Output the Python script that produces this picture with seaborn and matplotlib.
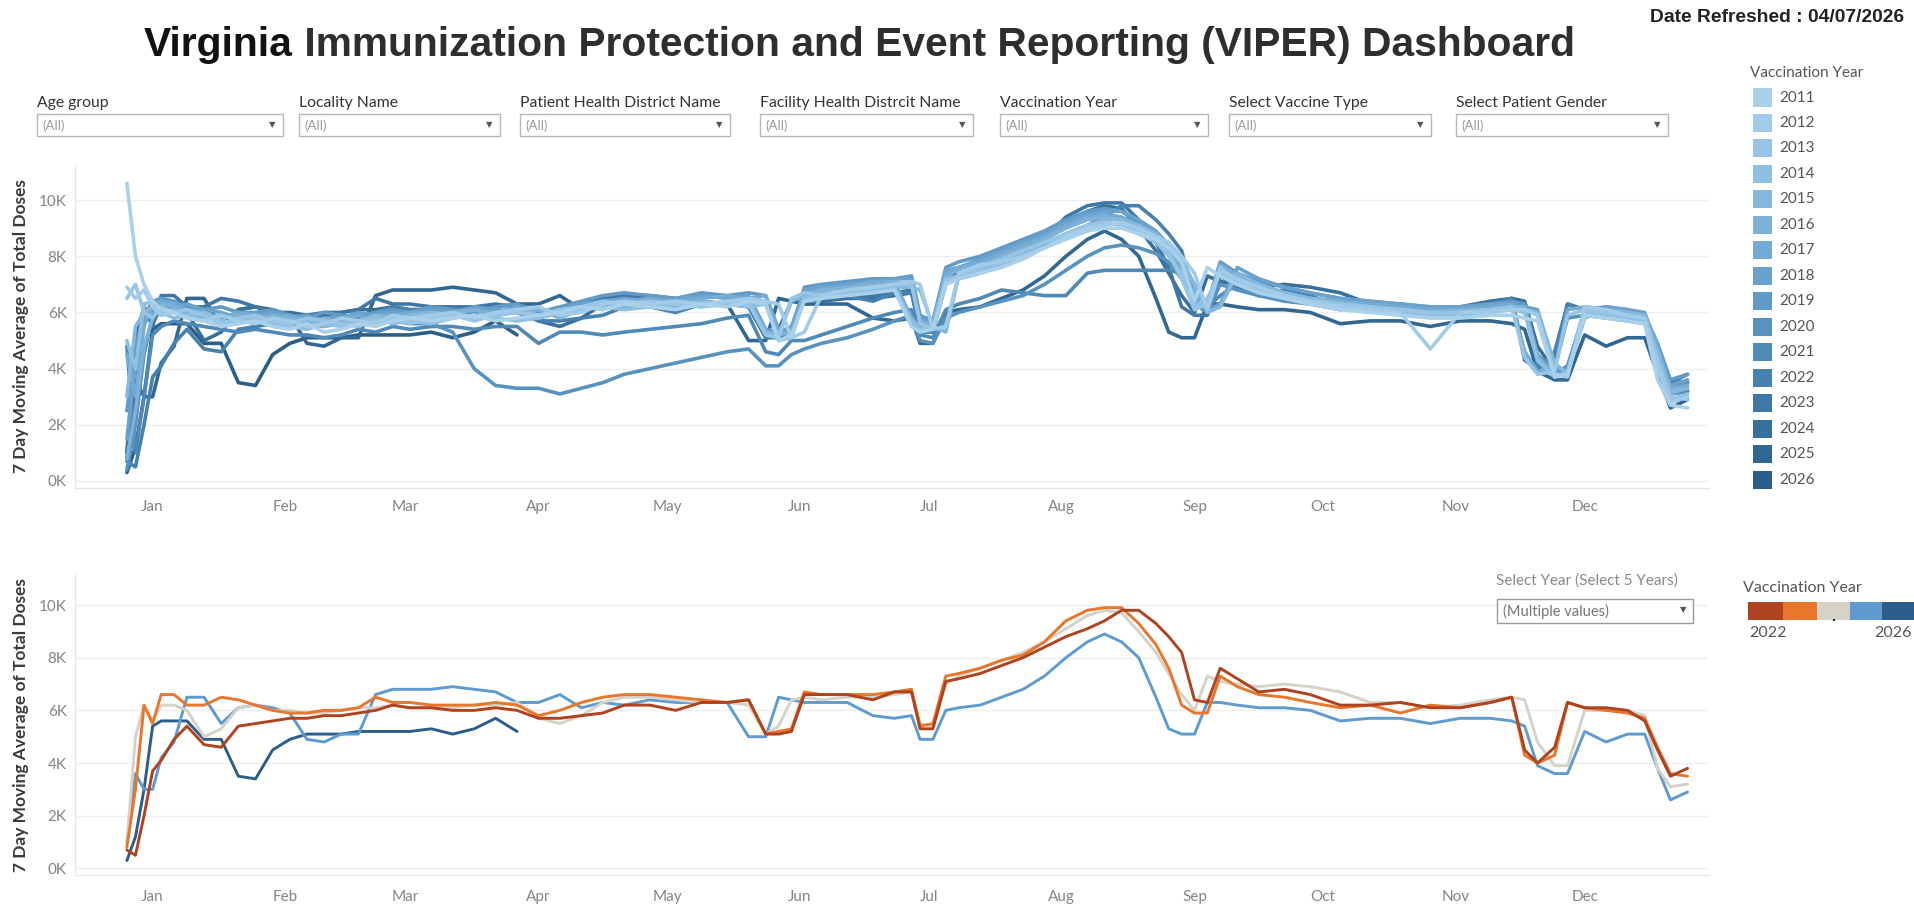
import numpy as np
import pandas as pd
import matplotlib
matplotlib.use("Agg")
import matplotlib.pyplot as plt
from matplotlib.patches import Rectangle
from matplotlib.ticker import FuncFormatter
from matplotlib import font_manager
import seaborn as sns

# ---------------- data (values in thousands of doses) ----------------
DAYS = [-6, -4, -2, 0, 2, 5, 8, 12, 16, 20,
        24, 28, 32, 36, 40, 44, 48, 52, 56, 60,
        65, 70, 75, 80, 85, 90, 95, 100, 105, 110,
        116, 122, 128, 134, 139, 143, 146, 149, 152, 156,
        162, 168, 173, 177, 179, 182, 185, 188, 193, 198,
        203, 208, 213, 218, 222, 226, 230, 234, 237, 240,
        243, 246, 249, 253, 258, 264, 270, 277, 284, 291,
        298, 305, 312, 317, 320, 323, 327, 330, 334, 339,
        344, 348, 351, 354, 358]

Y2011 = [10.6, 8.0, 7.0, 6.4, 6.1, 6.0, 5.8, 5.7, 5.5, 5.6,
         5.7, 5.5, 5.4, 5.6, 5.3, 5.4, 5.6, 5.5, 5.7, 5.8,
         5.7, 5.8, 5.9, 5.7, 5.8, 5.9, 6.0, 6.2, 6.1, 6.3,
         6.2, 6.1, 6.3, 6.2, 6.4, 6.3, 5.0, 5.2, 6.4, 6.5,
         6.6, 6.7, 6.8, 5.5, 5.3, 5.4, 7.0, 7.2, 7.4, 7.6,
         7.9, 8.3, 8.6, 8.9, 9.0, 9.0, 8.8, 8.6, 8.3, 7.8,
         6.4, 7.6, 7.3, 7.0, 6.7, 6.5, 6.3, 6.1, 6.0, 5.9,
         5.8, 5.8, 5.9, 5.9, 5.8, 5.7, 3.7, 3.8, 5.9, 5.8,
         5.7, 5.6, 3.6, 2.7, 2.6]
Y2012 = [6.9, 6.5, 6.8, 6.2, 5.9, 6.0, 5.8, 5.7, 5.9, 5.7,
         5.6, 5.8, 5.7, 5.5, 5.6, 5.8, 5.7, 5.6, 5.9, 5.8,
         5.9, 6.0, 5.8, 6.0, 6.1, 6.2, 5.9, 6.0, 6.3, 6.4,
         6.3, 6.4, 6.3, 6.4, 6.5, 6.4, 6.3, 5.1, 5.3, 6.6,
         6.8, 6.9, 7.0, 7.1, 7.0, 5.4, 5.5, 7.4, 7.7, 7.8,
         8.0, 8.3, 8.7, 9.0, 9.1, 9.2, 9.0, 8.7, 8.5, 8.0,
         7.4, 6.1, 7.5, 7.2, 6.9, 6.6, 6.4, 6.2, 6.1, 6.0,
         4.7, 6.0, 6.0, 6.1, 6.1, 5.9, 3.8, 3.7, 6.2, 6.1,
         5.9, 5.8, 4.0, 2.8, 3.0]
Y2013 = [6.5, 7.0, 6.0, 5.8, 6.2, 6.0, 6.1, 5.9, 5.6, 5.8,
         5.9, 5.7, 5.6, 5.8, 5.7, 5.6, 5.5, 5.7, 5.8, 5.6,
         5.8, 5.9, 5.7, 5.9, 6.0, 5.9, 6.1, 6.2, 6.4, 6.3,
         6.4, 6.3, 6.2, 6.4, 6.3, 5.2, 5.1, 6.5, 6.7, 6.6,
         6.8, 6.9, 7.0, 7.0, 5.6, 5.4, 7.1, 7.3, 7.6, 7.9,
         8.2, 8.5, 8.8, 9.1, 9.2, 9.1, 8.9, 8.6, 8.1, 7.2,
         6.1, 6.3, 7.6, 7.1, 6.8, 6.6, 6.4, 6.3, 6.2, 6.1,
         6.0, 6.0, 6.1, 6.2, 4.4, 3.8, 3.9, 5.9, 6.1, 6.0,
         5.9, 5.8, 4.3, 3.0, 2.9]
Y2014 = [5.0, 4.0, 6.3, 6.4, 6.0, 5.8, 5.9, 6.0, 5.7, 5.6,
         5.8, 5.6, 5.5, 5.4, 5.6, 5.5, 5.7, 5.8, 5.6, 5.7,
         5.6, 5.8, 5.9, 5.8, 5.7, 5.8, 6.0, 6.1, 6.2, 6.1,
         6.2, 6.3, 6.2, 6.3, 6.2, 6.3, 5.0, 5.1, 6.5, 6.6,
         6.7, 6.8, 6.9, 5.7, 5.4, 5.5, 7.2, 7.3, 7.5, 7.7,
         8.0, 8.3, 8.7, 9.0, 9.2, 9.1, 8.8, 8.5, 8.0, 7.4,
         6.2, 6.5, 7.4, 7.0, 6.7, 6.5, 6.3, 6.2, 6.1, 6.0,
         5.9, 5.9, 6.0, 6.1, 6.0, 4.3, 3.7, 3.9, 6.0, 5.9,
         5.8, 5.7, 4.1, 2.9, 3.1]
Y2015 = [3.0, 5.5, 6.0, 6.2, 6.0, 6.1, 5.9, 5.8, 5.9, 5.7,
         5.8, 5.7, 5.6, 5.7, 5.5, 5.6, 5.7, 5.9, 5.8, 5.9,
         6.0, 5.9, 5.8, 6.0, 6.1, 5.9, 6.0, 6.2, 6.3, 6.4,
         6.3, 6.2, 6.4, 6.3, 6.4, 5.3, 5.2, 6.4, 6.6, 6.7,
         6.7, 6.8, 6.9, 6.9, 6.8, 5.5, 5.3, 7.3, 7.5, 7.8,
         8.1, 8.4, 8.8, 9.1, 9.3, 9.3, 9.1, 8.8, 8.4, 7.9,
         7.0, 6.0, 6.2, 7.4, 7.0, 6.7, 6.5, 6.3, 6.2, 6.1,
         6.0, 6.0, 6.1, 6.2, 6.1, 6.0, 4.2, 3.8, 5.8, 6.1,
         6.0, 5.9, 4.6, 3.2, 3.3]
Y2016 = [0.8, 2.5, 4.8, 5.8, 6.3, 6.2, 6.0, 5.9, 5.8, 5.9,
         5.7, 5.9, 5.8, 5.6, 5.8, 5.7, 5.6, 5.8, 5.9, 5.8,
         5.9, 6.0, 6.1, 5.9, 6.0, 6.1, 5.8, 6.1, 6.3, 6.2,
         6.4, 6.3, 6.4, 6.3, 6.5, 6.4, 5.2, 5.3, 6.6, 6.8,
         6.9, 7.0, 7.1, 7.0, 5.7, 5.5, 7.3, 7.5, 7.7, 8.0,
         8.3, 8.6, 9.0, 9.3, 9.4, 9.3, 9.0, 8.6, 8.2, 7.6,
         6.4, 6.2, 7.7, 7.3, 7.0, 6.7, 6.5, 6.4, 6.2, 6.1,
         6.0, 6.1, 6.1, 6.2, 6.2, 4.4, 3.8, 3.8, 6.2, 6.1,
         6.0, 5.9, 4.4, 3.1, 3.3]
Y2017 = [4.5, 3.0, 5.5, 6.3, 6.4, 6.3, 6.1, 6.0, 5.8, 6.0,
         5.9, 5.8, 5.9, 5.7, 5.6, 5.8, 5.9, 5.7, 5.9, 6.0,
         6.0, 5.9, 6.1, 6.0, 6.2, 5.8, 6.0, 6.1, 6.3, 6.4,
         6.5, 6.4, 6.5, 6.6, 6.5, 6.6, 5.3, 5.2, 6.7, 6.8,
         6.9, 7.1, 7.1, 5.8, 5.5, 5.6, 7.4, 7.6, 7.8, 8.1,
         8.4, 8.7, 9.1, 9.4, 9.5, 9.4, 9.1, 8.7, 8.3, 7.7,
         6.6, 6.3, 7.5, 7.2, 6.9, 6.7, 6.5, 6.4, 6.3, 6.2,
         6.1, 6.1, 6.2, 6.3, 4.6, 3.9, 4.0, 6.1, 6.2, 6.1,
         6.0, 5.9, 4.8, 3.3, 3.4]
Y2018 = [1.5, 4.2, 5.8, 6.1, 5.9, 6.2, 6.3, 6.1, 6.0, 5.8,
         5.9, 6.0, 5.8, 5.9, 5.7, 5.8, 6.0, 5.9, 6.0, 5.9,
         6.1, 6.0, 6.2, 6.1, 6.0, 5.9, 6.1, 6.3, 6.4, 6.5,
         6.4, 6.5, 6.6, 6.5, 6.6, 5.4, 5.3, 5.5, 6.8, 6.9,
         7.0, 7.1, 7.2, 7.2, 5.8, 5.6, 7.5, 7.6, 7.9, 8.2,
         8.5, 8.8, 9.2, 9.5, 9.6, 9.6, 9.3, 8.9, 8.4, 7.8,
         6.9, 6.1, 6.3, 7.6, 7.2, 6.9, 6.7, 6.5, 6.4, 6.3,
         6.2, 6.2, 6.3, 6.3, 6.2, 6.1, 4.1, 3.9, 6.0, 6.2,
         6.1, 6.0, 4.7, 3.4, 3.6]
Y2019 = [2.5, 4.8, 5.9, 6.4, 6.5, 6.4, 6.2, 6.1, 6.2, 6.0,
         6.0, 6.1, 5.9, 5.8, 6.0, 5.9, 5.8, 6.0, 6.1, 6.0,
         6.2, 6.1, 6.0, 6.2, 6.3, 6.0, 6.2, 6.4, 6.6, 6.7,
         6.6, 6.5, 6.7, 6.6, 6.7, 6.6, 5.4, 5.3, 6.9, 7.0,
         7.1, 7.2, 7.2, 7.3, 5.9, 5.7, 7.6, 7.8, 8.0, 8.3,
         8.6, 8.9, 9.3, 9.6, 9.7, 9.6, 9.2, 8.8, 8.3, 7.5,
         6.5, 6.3, 7.8, 7.4, 7.1, 6.9, 6.7, 6.5, 6.4, 6.3,
         6.2, 6.2, 6.3, 6.4, 6.3, 4.5, 3.9, 4.0, 6.1, 6.2,
         6.1, 5.9, 4.9, 3.6, 3.8]
Y2020 = [0.4, 2.0, 4.5, 5.9, 6.3, 6.2, 6.0, 5.9, 5.8, 5.9,
         5.8, 5.7, 5.8, 5.6, 5.5, 5.7, 5.8, 5.6, 5.7, 5.6,
         5.6, 5.3, 4.0, 3.4, 3.3, 3.3, 3.1, 3.3, 3.5, 3.8,
         4.0, 4.2, 4.4, 4.6, 4.7, 4.1, 4.1, 4.5, 4.7, 4.9,
         5.1, 5.4, 5.7, 5.9, 5.0, 4.9, 5.8, 6.0, 6.2, 6.4,
         6.6, 7.0, 7.5, 8.0, 8.3, 8.4, 8.3, 8.1, 7.8, 7.2,
         6.3, 6.0, 7.0, 6.8, 6.6, 6.4, 6.3, 6.3, 6.2, 6.1,
         6.0, 6.0, 6.1, 6.2, 4.6, 3.9, 4.0, 5.8, 5.9, 5.8,
         5.7, 5.6, 4.5, 3.3, 3.5]
Y2021 = [4.8, 1.0, 3.0, 5.2, 5.5, 5.7, 5.6, 5.5, 5.4, 5.3,
         5.4, 5.3, 5.2, 5.2, 5.1, 5.2, 5.4, 5.3, 5.5, 5.4,
         5.5, 5.5, 5.4, 5.5, 5.5, 4.9, 5.3, 5.3, 5.2, 5.3,
         5.4, 5.5, 5.6, 5.8, 5.9, 4.6, 4.5, 5.0, 5.0, 5.2,
         5.5, 5.8, 6.0, 6.1, 5.2, 5.1, 6.1, 6.3, 6.5, 6.8,
         6.7, 6.6, 6.6, 7.4, 7.5, 7.5, 7.5, 7.5, 7.5, 7.4,
         7.0, 6.2, 6.6, 7.0, 6.9, 6.7, 6.5, 6.4, 6.3, 6.2,
         6.1, 6.0, 6.1, 6.2, 6.1, 4.2, 3.8, 4.1, 6.0, 5.9,
         5.9, 5.8, 4.3, 3.1, 3.2]
Y2022 = [0.7, 0.5, 2.0, 3.7, 4.1, 4.9, 5.4, 4.7, 4.6, 5.4,
         5.5, 5.6, 5.7, 5.7, 5.8, 5.8, 5.9, 6.0, 6.2, 6.1,
         6.1, 6.0, 6.0, 6.1, 6.0, 5.7, 5.7, 5.8, 5.9, 6.2,
         6.2, 6.0, 6.3, 6.3, 6.4, 5.1, 5.1, 5.2, 6.6, 6.6,
         6.6, 6.4, 6.7, 6.7, 5.3, 5.3, 7.1, 7.2, 7.4, 7.7,
         8.0, 8.4, 8.8, 9.1, 9.4, 9.8, 9.8, 9.3, 8.8, 8.2,
         6.4, 6.3, 7.6, 7.2, 6.7, 6.8, 6.6, 6.2, 6.2, 6.3,
         6.1, 6.1, 6.3, 6.5, 4.5, 4.0, 4.6, 6.3, 6.1, 6.1,
         6.0, 5.6, 4.5, 3.5, 3.8]
Y2023 = [0.8, 3.0, 6.2, 5.5, 6.6, 6.6, 6.2, 6.2, 6.5, 6.4,
         6.2, 6.0, 5.9, 5.9, 6.0, 6.0, 6.1, 6.5, 6.3, 6.3,
         6.2, 6.2, 6.2, 6.3, 6.2, 5.8, 6.0, 6.3, 6.5, 6.6,
         6.6, 6.5, 6.4, 6.3, 6.4, 5.1, 5.2, 5.3, 6.7, 6.6,
         6.6, 6.6, 6.7, 6.8, 5.4, 5.5, 7.3, 7.4, 7.6, 7.9,
         8.1, 8.6, 9.4, 9.8, 9.9, 9.9, 9.3, 8.5, 7.6, 6.2,
         5.9, 5.9, 7.3, 6.9, 6.6, 6.5, 6.3, 6.1, 6.2, 5.9,
         6.2, 6.1, 6.3, 6.5, 4.3, 4.0, 4.3, 6.3, 6.1, 6.0,
         5.9, 5.7, 4.6, 3.6, 3.5]
Y2024 = [1.0, 5.0, 6.2, 5.6, 6.2, 6.2, 6.0, 5.0, 5.3, 6.1,
         6.2, 6.0, 6.0, 5.9, 5.9, 6.0, 6.1, 6.1, 6.2, 6.1,
         6.1, 6.1, 6.2, 6.2, 6.3, 5.7, 5.5, 5.8, 6.3, 6.5,
         6.5, 6.4, 6.3, 6.3, 6.2, 5.1, 5.4, 6.4, 6.5, 6.4,
         6.5, 6.5, 6.6, 6.7, 5.5, 5.4, 7.0, 7.3, 7.6, 7.9,
         8.2, 8.6, 9.1, 9.6, 9.8, 9.7, 9.0, 8.2, 7.4, 6.6,
         6.0, 7.3, 7.1, 7.0, 6.9, 7.0, 6.9, 6.7, 6.3, 6.3,
         6.1, 6.2, 6.4, 6.5, 6.4, 4.8, 3.9, 3.9, 6.0, 6.0,
         6.0, 5.8, 3.8, 3.1, 3.2]
Y2025 = [1.0, 3.6, 3.0, 3.0, 4.2, 4.8, 6.5, 6.5, 5.5, 6.1,
         6.2, 6.1, 5.9, 4.9, 4.8, 5.1, 5.1, 6.6, 6.8, 6.8,
         6.8, 6.9, 6.8, 6.7, 6.3, 6.3, 6.6, 6.1, 6.3, 6.2,
         6.4, 6.3, 6.3, 6.3, 5.0, 5.0, 6.5, 6.4, 6.3, 6.3,
         6.3, 5.8, 5.7, 5.8, 4.9, 4.9, 6.0, 6.1, 6.2, 6.5,
         6.8, 7.3, 8.0, 8.6, 8.9, 8.6, 8.0, 6.5, 5.3, 5.1,
         5.1, 6.3, 6.3, 6.2, 6.1, 6.1, 6.0, 5.6, 5.7, 5.7,
         5.5, 5.7, 5.7, 5.6, 5.4, 3.9, 3.6, 3.6, 5.2, 4.8,
         5.1, 5.1, 3.8, 2.6, 2.9]
Y2026 = [0.3, 1.2, 3.0, 5.4, 5.6, 5.6, 5.6, 4.9, 4.9, 3.5,
         3.4, 4.5, 4.9, 5.1, 5.1, 5.1, 5.2, 5.2, 5.2, 5.2,
         5.3, 5.1, 5.3, 5.7, 5.2]

TOP_YEARS = [2011, 2012, 2013, 2014, 2015, 2016, 2017, 2018,
             2019, 2020, 2021, 2022, 2023, 2024, 2025, 2026]
TOP_SERIES = [Y2011, Y2012, Y2013, Y2014, Y2015, Y2016, Y2017, Y2018,
              Y2019, Y2020, Y2021, Y2022, Y2023, Y2024, Y2025, Y2026]
BOTTOM_YEARS = [2022, 2023, 2024, 2025, 2026]
BOTTOM_SERIES = [Y2022, Y2023, Y2024, Y2025, Y2026]

MONTH_LABELS = ["Jan", "Feb", "Mar", "Apr", "May", "Jun",
                "Jul", "Aug", "Sep", "Oct", "Nov", "Dec"]
MONTH_START_DAYS = [0, 31, 59, 90, 120, 151, 181, 212, 243, 273, 304, 334]
Y_TICKS = [0, 2000, 4000, 6000, 8000, 10000]

FILTER_LABELS = ["Age group", "Locality Name", "Patient Health District Name",
                 "Facility Health Distrcit Name", "Vaccination Year",
                 "Select Vaccine Type", "Select Patient Gender"]
FILTER_VALUE = "(All)"

TITLE_BOLD = "Virginia"
TITLE_REST = " Immunization Protection and Event Reporting (VIPER) Dashboard"
DATE_TEXT = "Date Refreshed : 04/07/2026"
Y_LABEL = "7 Day Moving Average of Total Doses"
LEGEND_TITLE = "Vaccination Year"
SELECT_YEAR_LABEL = "Select Year (Select 5 Years)"
SELECT_YEAR_VALUE = "(Multiple values)"

# ---------------- styles ----------------
TOP_COLORS = ["#a9d1eb", "#a1cbe8", "#98c5e5", "#8fbfe1", "#86b8dd", "#7db1d8",
              "#74aad3", "#6ba2cd", "#619ac6", "#5892bf", "#4f89b7", "#4781ae",
              "#3f78a5", "#38709c", "#316793", "#2b5f8a"]
BOTTOM_COLORS = ["#b0431f", "#e9762b", "#d5d3c8", "#5f9bd0", "#2d5d8c"]

W, H = 1914, 907
sns.set_theme(style="white")
plt.rcParams["font.family"] = ["Lato", "DejaVu Sans"]

available = {f.name for f in font_manager.fontManager.ttflist}
TITLE_FAMILY = "Liberation Sans Narrow" if "Liberation Sans Narrow" in available else "Liberation Sans"


def fx(x):
    return x / W


def fy(y):
    return 1 - y / H


def make_frame(years, series):
    rows = []
    for yr, vals in zip(years, series):
        for d, v in zip(DAYS, vals):
            rows.append({"day": d, "doses": v * 1000.0, "year": str(yr)})
    return pd.DataFrame(rows)


df_top = make_frame(TOP_YEARS, TOP_SERIES)
df_bot = make_frame(BOTTOM_YEARS, BOTTOM_SERIES)

fig = plt.figure(figsize=(W / 100, H / 100), dpi=100)
fig.patch.set_facecolor("white")

ax_top = fig.add_axes([fx(75), fy(488), (1709 - 75) / W, (488 - 165) / H])
ax_bot = fig.add_axes([fx(75), fy(875), (1709 - 75) / W, (875 - 575) / H])

top_pal = {str(y): c for y, c in zip(TOP_YEARS, TOP_COLORS)}
bot_pal = {str(y): c for y, c in zip(BOTTOM_YEARS, BOTTOM_COLORS)}

sns.lineplot(data=df_top, x="day", y="doses", hue="year",
             hue_order=[str(y) for y in TOP_YEARS[::-1]], palette=top_pal,
             estimator=None, linewidth=2.6, legend=False, ax=ax_top)
sns.lineplot(data=df_bot, x="day", y="doses", hue="year",
             hue_order=[str(y) for y in BOTTOM_YEARS[::-1]], palette=bot_pal,
             estimator=None, linewidth=2.1, legend=False, ax=ax_bot)

kfmt = FuncFormatter(lambda v, p: f"{int(round(v / 1000))}K")
for ax, ylims, pad in ((ax_top, (-250, 11250), 9), (ax_bot, (-250, 11140), 11)):
    ax.set_xlim(-18.1, 363)
    ax.set_ylim(*ylims)
    ax.set_yticks(Y_TICKS)
    ax.yaxis.set_major_formatter(kfmt)
    ax.set_xticks(MONTH_START_DAYS)
    ax.set_xticklabels(MONTH_LABELS)
    ax.grid(axis="y", color="#efefef", linewidth=1)
    ax.grid(axis="x", visible=False)
    for s in ("top", "right"):
        ax.spines[s].set_visible(False)
    for s in ("left", "bottom"):
        ax.spines[s].set_color("#e6e6e6")
        ax.spines[s].set_linewidth(1)
    ax.tick_params(axis="both", length=0, labelsize=11, labelcolor="#858585")
    ax.tick_params(axis="x", pad=pad)
    ax.tick_params(axis="y", pad=6)
    ax.set_xlabel("")
    ax.set_ylabel(Y_LABEL, fontsize=12.5, color="#3a3a3a", fontweight="bold")
    ax.yaxis.set_label_coords((29 - 75) / (1709 - 75), 0.5)
    ax.set_facecolor("white")

# ---------------- titles ----------------
renderer = fig.canvas.get_renderer()
t1 = fig.text(fx(144), fy(56), TITLE_BOLD, fontsize=28, fontweight="bold",
              color="#111111", family=TITLE_FAMILY, va="baseline", ha="left")
t2 = fig.text(fx(300), fy(56), TITLE_REST, fontsize=28, fontweight="bold",
              color="#2e2e2e", family=TITLE_FAMILY, va="baseline", ha="left")
w_total = t1.get_window_extent(renderer).width + t2.get_window_extent(renderer).width
scale = 1431 / w_total
t1.set_fontsize(28 * scale)
t2.set_fontsize(28 * scale)
w1 = t1.get_window_extent(renderer).width
t2.set_x(fx(144 + w1))

td = fig.text(fx(1904), fy(22), DATE_TEXT, fontsize=12, fontweight="bold",
              color="#222222", family=TITLE_FAMILY, va="baseline", ha="right")
wd = td.get_window_extent(renderer).width
td.set_fontsize(12 * 254 / wd)

# ---------------- filter controls ----------------
BOX_X = [(37, 283), (299, 500), (520, 730), (760, 973),
         (1000, 1208), (1229, 1431), (1456, 1668)]
for label, (x0, x1) in zip(FILTER_LABELS, BOX_X):
    fig.text(fx(x0), fy(103), label, fontsize=11.3, color="#333333",
             va="center", ha="left")
    fig.add_artist(Rectangle((fx(x0), fy(136)), (x1 - x0) / W, 22 / H,
                             transform=fig.transFigure, facecolor="white",
                             edgecolor="#b8b8b8", linewidth=1))
    fig.text(fx(x0 + 5), fy(125.5), FILTER_VALUE, fontsize=9.5, color="#9a9a9a",
             va="center", ha="left")
    fig.text(fx(x1 - 11), fy(125), "\u25BC", fontsize=6, color="#555555",
             va="center", ha="center", family="DejaVu Sans")

# ---------------- top legend ----------------
fig.text(fx(1750), fy(73), LEGEND_TITLE, fontsize=11, color="#555555",
         va="center", ha="left")
for i, (yr, col) in enumerate(zip(TOP_YEARS, TOP_COLORS)):
    yc = 97.5 + i * 25.47
    fig.add_artist(Rectangle((fx(1753), fy(yc + 9)), 19 / W, 18 / H,
                             transform=fig.transFigure, facecolor=col,
                             edgecolor="none"))
    fig.text(fx(1779), fy(yc), str(yr), fontsize=11, color="#555555",
             va="center", ha="left")

# ---------------- bottom controls / legend ----------------
fig.text(fx(1496), fy(581), SELECT_YEAR_LABEL, fontsize=11, color="#8a8a8a",
         va="center", ha="left")
fig.add_artist(Rectangle((fx(1497), fy(623)), 196 / W, 24 / H,
                         transform=fig.transFigure, facecolor="white",
                         edgecolor="#9a9a9a", linewidth=1))
fig.text(fx(1503), fy(611), SELECT_YEAR_VALUE, fontsize=10.5, color="#777777",
         va="center", ha="left")
fig.text(fx(1683), fy(610), "\u25BC", fontsize=6, color="#555555",
         va="center", ha="center", family="DejaVu Sans")

fig.text(fx(1743), fy(588), LEGEND_TITLE, fontsize=11.5, color="#555555",
         va="center", ha="left")
edges = [1748, 1783, 1817, 1850, 1882, 1916]
for i, col in enumerate(BOTTOM_COLORS):
    fig.add_artist(Rectangle((fx(edges[i]), fy(620)), (edges[i + 1] - edges[i]) / W,
                             18 / H, transform=fig.transFigure,
                             facecolor=col, edgecolor="none"))
fig.add_artist(Rectangle((fx(1833), fy(621)), 2 / W, 2 / H,
                         transform=fig.transFigure, facecolor="#222222",
                         edgecolor="none"))
fig.text(fx(1749), fy(633), str(BOTTOM_YEARS[0]), fontsize=11.5, color="#555555",
         va="center", ha="left")
fig.text(fx(1912), fy(633), str(BOTTOM_YEARS[-1]), fontsize=11.5, color="#555555",
         va="center", ha="right")

fig.savefig("out.png", dpi=100, facecolor="white")
